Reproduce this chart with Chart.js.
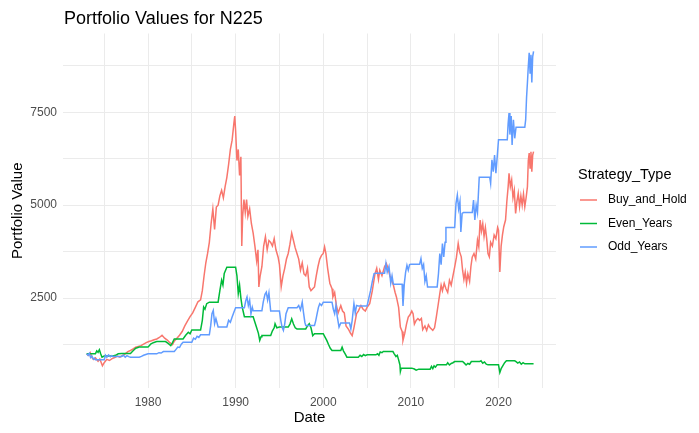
<!DOCTYPE html>
<html>
<head>
<meta charset="utf-8">
<title>Portfolio Values for N225</title>
<script src="https://cdn.jsdelivr.net/npm/chart.js@4/dist/chart.umd.min.js"></script>
<style>
  html, body { margin: 0; padding: 0; background: #ffffff; }
  #wrap { width: 699px; height: 433px; }
</style>
</head>
<body>
<div id="wrap"><canvas id="n225Chart" width="699" height="433"></canvas></div>
<script>
// values (decimal years)
const buyHoldYears = [
  1973.0, 1973.2, 1973.4, 1973.6, 1973.8, 1974.0, 1974.3, 1974.5, 1974.8, 1975.0,
  1975.3, 1975.6, 1975.9, 1976.2, 1976.5, 1976.8, 1977.1, 1977.4, 1977.7, 1978.0,
  1978.3, 1978.6, 1978.9, 1979.2, 1979.5, 1979.8, 1980.1, 1980.4, 1980.7, 1981.0,
  1981.3, 1981.6, 1981.9, 1982.2, 1982.5, 1982.8, 1983.0, 1983.3, 1983.6, 1983.9,
  1984.2, 1984.5, 1984.8, 1985.1, 1985.4, 1985.7, 1986.0, 1986.2, 1986.4, 1986.6,
  1986.8, 1987.0, 1987.2, 1987.4, 1987.6, 1987.8, 1988.0, 1988.2, 1988.4, 1988.6,
  1988.8, 1989.0, 1989.2, 1989.4, 1989.6, 1989.8, 1989.9, 1990.0, 1990.15, 1990.3,
  1990.45, 1990.6, 1990.7, 1990.8, 1990.95, 1991.1, 1991.25, 1991.4, 1991.6, 1991.8,
  1992.0, 1992.2, 1992.4, 1992.55, 1992.65, 1992.8, 1993.0, 1993.2, 1993.4, 1993.6,
  1993.8, 1994.0, 1994.2, 1994.4, 1994.6, 1994.85, 1995.0, 1995.2, 1995.4, 1995.6,
  1995.8, 1996.0, 1996.2, 1996.4, 1996.6, 1996.8, 1997.0, 1997.2, 1997.4, 1997.6,
  1997.8, 1998.0, 1998.2, 1998.4, 1998.6, 1998.8, 1999.0, 1999.2, 1999.4, 1999.6,
  1999.8, 2000.0, 2000.15, 2000.3, 2000.5, 2000.75, 2001.0, 2001.1, 2001.3, 2001.5,
  2001.7, 2002.0, 2002.2, 2002.4, 2002.6, 2002.9, 2003.1, 2003.3, 2003.5, 2003.8,
  2004.0, 2004.3, 2004.55, 2004.8, 2005.0, 2005.3, 2005.6, 2005.9, 2006.1, 2006.3,
  2006.45, 2006.7, 2007.0, 2007.2, 2007.4, 2007.6, 2007.8, 2008.0, 2008.2, 2008.35,
  2008.6, 2008.8, 2009.0, 2009.1, 2009.3, 2009.5, 2009.7, 2009.9, 2010.1, 2010.25,
  2010.4, 2010.6, 2010.8, 2011.0, 2011.2, 2011.35, 2011.6, 2011.8, 2012.0, 2012.2,
  2012.5, 2012.7, 2012.9, 2013.1, 2013.3, 2013.45, 2013.6, 2013.8, 2014.0, 2014.2,
  2014.4, 2014.6, 2014.8, 2015.0, 2015.2, 2015.4, 2015.55, 2015.75, 2015.9, 2016.05,
  2016.2, 2016.35, 2016.5, 2016.7, 2016.85, 2017.0, 2017.2, 2017.4, 2017.6, 2017.75,
  2017.9, 2018.05, 2018.2, 2018.35, 2018.5, 2018.65, 2018.8, 2018.95, 2019.1, 2019.3,
  2019.5, 2019.7, 2019.9, 2020.0, 2020.15, 2020.3, 2020.45, 2020.6, 2020.8, 2020.95,
  2021.1, 2021.2, 2021.35, 2021.5, 2021.65, 2021.8, 2021.95, 2022.1, 2022.25, 2022.4,
  2022.55, 2022.7, 2022.85, 2023.0, 2023.15, 2023.3, 2023.4, 2023.5, 2023.6, 2023.7,
  2023.8, 2023.9, 2024.0
];
const buyHoldValues = [
  1000, 960, 1030, 900, 850, 890, 800, 860, 680, 760,
  850, 820, 870, 900, 940, 910, 960, 1000, 1060, 1090,
  1130, 1180, 1200, 1220, 1260, 1300, 1330, 1350, 1380, 1400,
  1440, 1500, 1420, 1370, 1300, 1250, 1340, 1420, 1500, 1600,
  1750, 1880, 2000, 2100, 2250, 2400, 2450, 2700, 3100, 3450,
  3700, 4000, 4500, 4900, 4350, 4950, 5000, 5250, 5400, 5200,
  5500, 5750, 6100, 6500, 6750, 7200, 7400, 7000, 6200, 6500,
  5800, 6300, 3900, 4700, 5150, 4800, 5150, 4700, 4900, 4500,
  4250, 3900, 3500, 3800, 2800, 3100, 3350, 3900, 4150, 3800,
  4050, 4000, 3900, 4100, 3800, 3600, 3400, 2800, 3100, 3300,
  3550, 3700, 3950, 4250, 4050, 3850, 3700, 3550, 3250, 3450,
  3150, 3100, 3300, 2800, 2700, 2750, 2800, 3100, 3350, 3550,
  3650, 3700, 3880, 3700, 3300, 2900, 2750, 2530, 2650, 2300,
  2100, 2300, 2150, 2100, 1750, 1650, 1560, 1490, 1700, 2080,
  2150, 2300, 2200, 2150, 2250, 2350, 2700, 3150, 3300, 3000,
  3250, 3100, 3350, 3430, 3300, 3100, 2980, 2850, 2650, 2530,
  2250, 1720, 1600, 1360, 1550, 1800, 1990, 2050, 2150, 2080,
  1800, 1900, 1950, 1900, 1950, 1650, 1750, 1630, 1780, 1700,
  1630, 1700, 1990, 2300, 2620, 2850, 2700, 2900, 2750, 2650,
  2980, 2850, 3100, 3340, 3600, 3970, 3750, 3610, 3250, 3000,
  3200, 2900, 3150, 2950, 3350, 3600, 3700, 3550, 4060, 3880,
  4600, 4300, 4500, 4160, 4400, 4100, 3700, 3610, 4000, 3900,
  4200, 4100, 4400, 4330, 3200, 3900, 4200, 4420, 4600, 5100,
  5500, 5860, 5500, 5680, 5200, 5400, 4780, 5100, 5320, 4960,
  5250, 5000, 5300, 4960, 5200, 5500, 6200, 6400, 6000, 6440,
  5900, 6350, 6440
];

const evenYears = [
  1973.0, 1974.0, 1974.15, 1974.3, 1974.45, 1974.6, 1974.75, 1975.0, 1976.0, 1976.3,
  1976.6, 1977.0, 1978.0, 1978.3, 1978.6, 1979.0, 1980.0, 1980.3, 1980.6, 1981.0,
  1982.0, 1982.3, 1982.6, 1982.8, 1983.0, 1984.0, 1984.3, 1984.6, 1984.8, 1985.0,
  1986.0, 1986.2, 1986.35, 1986.5, 1986.7, 1987.0, 1988.0, 1988.2, 1988.4, 1988.55,
  1988.7, 1989.0, 1990.0, 1990.15, 1990.3, 1990.45, 1990.6, 1990.75, 1991.0, 1992.0,
  1992.2, 1992.4, 1992.6, 1992.75, 1992.9, 1993.0, 1994.0, 1994.2, 1994.4, 1994.5,
  1994.7, 1995.0, 1996.0, 1996.2, 1996.4, 1996.6, 1996.8, 1997.0, 1998.0, 1998.2,
  1998.4, 1998.6, 1998.8, 1999.0, 2000.0, 2000.2, 2000.4, 2000.6, 2000.8, 2001.0,
  2002.0, 2002.15, 2002.3, 2002.5, 2002.7, 2003.0, 2004.0, 2004.2, 2004.4, 2004.6,
  2004.8, 2005.0, 2006.0, 2006.2, 2006.35, 2006.5, 2006.7, 2006.85, 2007.95, 2008.1,
  2008.3, 2008.45, 2008.6, 2008.75, 2008.8, 2008.9, 2010.1, 2010.4, 2010.6, 2010.9,
  2012.2, 2012.35, 2012.5, 2012.65, 2012.8, 2013.0, 2014.05, 2014.2, 2014.4, 2014.6,
  2014.8, 2015.0, 2015.9, 2016.1, 2016.3, 2016.5, 2016.7, 2016.9, 2017.85, 2018.0,
  2018.2, 2018.4, 2018.6, 2018.8, 2019.0, 2020.0, 2020.15, 2020.3, 2020.5, 2020.7,
  2020.9, 2021.85, 2022.0, 2022.2, 2022.4, 2022.6, 2022.8, 2023.0, 2024.0
];
const evenValues = [
  1000, 1000, 1080, 1040, 1110, 1000, 910, 940, 940, 960,
  1000, 1010, 1010, 1080, 1150, 1180, 1180, 1260, 1300, 1330,
  1330, 1280, 1220, 1300, 1400, 1400, 1500, 1580, 1540, 1640,
  1640, 1900, 2260, 2200, 2350, 2390, 2390, 2700, 2980, 2850,
  3160, 3330, 3330, 3100, 2620, 2850, 2500, 2260, 2000, 2000,
  1850, 1700, 1550, 1360, 1460, 1490, 1490, 1620, 1700, 1810,
  1700, 1720, 1720, 1800, 1940, 1800, 1700, 1670, 1670, 1750,
  1810, 1700, 1490, 1540, 1540, 1450, 1360, 1250, 1150, 1090,
  1090, 1180, 1080, 1000, 910, 910, 910, 960, 930, 980,
  950, 972, 972, 1000, 960, 1050, 1030, 1062, 1062, 1000,
  927, 960, 838, 700, 523, 614, 614, 590, 560, 587,
  587, 660, 600, 676, 640, 703, 703, 760, 700, 740,
  760, 792, 792, 749, 700, 740, 720, 792, 792, 811,
  749, 780, 720, 703, 703, 703, 496, 600, 680, 760,
  811, 811, 790, 749, 780, 720, 760, 730, 730
];

const oddYears = [
  1973.0, 1973.15, 1973.3, 1973.45, 1973.6, 1973.75, 1973.9, 1974.0, 1975.0, 1975.15,
  1975.3, 1975.5, 1975.7, 1975.85, 1976.0, 1977.0, 1977.2, 1977.4, 1977.6, 1977.8,
  1978.0, 1979.0, 1979.25, 1979.5, 1979.75, 1980.0, 1981.0, 1981.25, 1981.5, 1981.75,
  1982.0, 1983.0, 1983.2, 1983.4, 1983.6, 1983.8, 1984.0, 1985.0, 1985.2, 1985.4,
  1985.6, 1985.8, 1986.0, 1987.0, 1987.15, 1987.3, 1987.45, 1987.6, 1987.75, 1988.0,
  1989.0, 1989.2, 1989.4, 1989.6, 1989.8, 1990.0, 1991.0, 1991.15, 1991.3, 1991.45,
  1991.6, 1991.75, 1991.9, 1992.0, 1993.0, 1993.15, 1993.35, 1993.5, 1993.65, 1993.8,
  1994.0, 1995.0, 1995.15, 1995.3, 1995.45, 1995.6, 1995.75, 1996.0, 1997.0, 1997.2,
  1997.4, 1997.6, 1997.75, 1997.9, 1998.0, 1999.0, 1999.15, 1999.3, 1999.45, 1999.6,
  1999.8, 2000.0, 2001.0, 2001.15, 2001.3, 2001.45, 2001.6, 2001.8, 2002.0, 2003.0,
  2003.15, 2003.3, 2003.5, 2003.65, 2003.8, 2004.0, 2005.0, 2005.2, 2005.4, 2005.6,
  2005.8, 2006.0, 2007.0, 2007.15, 2007.3, 2007.5, 2007.7, 2007.85, 2008.0, 2009.0,
  2009.1, 2009.25, 2009.4, 2009.55, 2009.7, 2009.85, 2010.0, 2011.0, 2011.15, 2011.3,
  2011.45, 2011.6, 2011.75, 2011.9, 2012.0, 2013.0, 2013.15, 2013.3, 2013.45, 2013.6,
  2013.75, 2013.9, 2014.0, 2015.0, 2015.15, 2015.3, 2015.45, 2015.6, 2015.7, 2015.85,
  2016.0, 2017.0, 2017.15, 2017.3, 2017.45, 2017.6, 2017.8, 2018.0, 2019.0, 2019.1,
  2019.25, 2019.4, 2019.55, 2019.7, 2019.85, 2020.0, 2021.0, 2021.1, 2021.2, 2021.3,
  2021.45, 2021.55, 2021.7, 2021.85, 2022.0, 2023.0, 2023.1, 2023.2, 2023.3, 2023.4,
  2023.5, 2023.6, 2023.7, 2023.8, 2023.9, 2024.0
];
const oddValues = [
  1000, 960, 1010, 900, 940, 860, 880, 840, 840, 960,
  910, 970, 920, 950, 930, 930, 960, 910, 950, 925,
  910, 910, 930, 960, 980, 1000, 1000, 1030, 1020, 1060,
  1060, 1060, 1120, 1180, 1170, 1260, 1310, 1310, 1420, 1390,
  1470, 1440, 1510, 1510, 1750, 2080, 2170, 1810, 1950, 1720,
  1720, 1900, 1850, 1990, 2120, 2240, 2240, 2420, 2530, 2300,
  2440, 2080, 2250, 2160, 2160, 2390, 2600, 2660, 2450, 2640,
  2150, 2150, 1900, 1720, 1630, 1800, 2080, 2240, 2240, 2300,
  2180, 2390, 2100, 1850, 1760, 1760, 1900, 2080, 2250, 2350,
  2300, 2390, 2390, 2200, 2080, 2300, 2000, 1720, 1830, 1830,
  1670, 1900, 2350, 2100, 2300, 2290, 2290, 2500, 2700, 2950,
  3160, 3170, 3170, 3430, 3200, 3350, 2900, 3100, 2870, 2870,
  2290, 2890, 3200, 3380, 3250, 3400, 3410, 3410, 3560, 3300,
  3400, 2950, 3100, 2800, 2800, 2800, 3160, 3700, 3400, 3970,
  3610, 4000, 4400, 4400, 5050, 5270, 4900, 5100, 4280, 4780,
  4800, 4800, 5140, 4600, 5000, 4800, 5750, 5750, 5750, 5590,
  6220, 5900, 6350, 5860, 6300, 6760, 6760, 7200, 7480, 6900,
  7400, 6620, 7300, 6800, 7100, 7100, 7300, 7900, 8300, 8740,
  9100, 8560, 9050, 8300, 9000, 9140
];

const xTicks = [1975, 1980, 1985, 1990, 1995, 2000, 2005, 2010, 2015, 2020, 2025];
const yTicks = [1250, 2500, 3750, 5000, 6250, 7500, 8750];

const seriesNames = ['Buy_and_Hold', 'Even_Years', 'Odd_Years'];
const seriesColors = ['#F8766D', '#00BA38', '#619CFF'];

const fontFamily = '"Liberation Sans", Arial, Helvetica, sans-serif';

function toPoints(xs, ys) {
  return xs.map((x, i) => ({ x: x, y: ys[i] }));
}

// title and legend, drawn the ggplot way
const decorPlugin = {
  id: 'decor',
  afterDraw(chart) {
    const ctx = chart.ctx;
    ctx.save();
    ctx.fillStyle = '#000000';
    ctx.textAlign = 'left';
    ctx.textBaseline = 'alphabetic';
    ctx.font = '18px ' + fontFamily;
    ctx.fillText('Portfolio Values for N225', 64, 24);

    ctx.font = '14.5px ' + fontFamily;
    ctx.fillText('Strategy_Type', 578, 179);

    const keyY = [200, 223.5, 247];
    ctx.font = '12px ' + fontFamily;
    ctx.textBaseline = 'middle';
    seriesNames.forEach((name, i) => {
      ctx.strokeStyle = seriesColors[i];
      ctx.lineWidth = 1.5;
      ctx.beginPath();
      ctx.moveTo(580, keyY[i]);
      ctx.lineTo(597, keyY[i]);
      ctx.stroke();
      ctx.fillStyle = '#000000';
      ctx.fillText(name, 608, keyY[i]);
    });
    ctx.restore();
  }
};

const datasets = [
  toPoints(buyHoldYears, buyHoldValues),
  toPoints(evenYears, evenValues),
  toPoints(oddYears, oddValues)
].map((pts, i) => ({
  label: seriesNames[i],
  data: pts,
  borderColor: seriesColors[i],
  backgroundColor: seriesColors[i],
  borderWidth: 1.5,
  pointRadius: 0,
  tension: 0,
  fill: false,
  order: 3 - i
}));

new Chart(document.getElementById('n225Chart'), {
  type: 'line',
  data: { datasets: datasets },
  plugins: [decorPlugin],
  options: {
    responsive: false,
    animation: false,
    devicePixelRatio: 1,
    layout: { padding: { left: 0, right: 143, top: 33.5, bottom: 0 } },
    plugins: {
      legend: { display: false },
      title: { display: false },
      tooltip: { enabled: false }
    },
    scales: {
      x: {
        type: 'linear',
        min: 1970.3,
        max: 2026.56,
        afterBuildTicks: s => { s.ticks = xTicks.map(v => ({ value: v })); },
        afterFit: s => { s.height = 45; },
        grid: { color: '#EBEBEB', lineWidth: 1, drawTicks: false },
        border: { display: false },
        ticks: {
          autoSkip: false,
          maxRotation: 0,
          padding: 7,
          color: '#4D4D4D',
          font: { family: fontFamily, size: 12 },
          callback: v => (v % 10 === 0 ? String(v) : '')
        },
        title: {
          display: true,
          text: 'Date',
          color: '#000000',
          font: { family: fontFamily, size: 15 },
          padding: { top: 0, bottom: 6 }
        }
      },
      y: {
        type: 'linear',
        min: 80,
        max: 9620,
        afterBuildTicks: s => { s.ticks = yTicks.map(v => ({ value: v })); },
        afterFit: s => { s.width = 63; },
        grid: { color: '#EBEBEB', lineWidth: 1, drawTicks: false },
        border: { display: false },
        ticks: {
          autoSkip: false,
          padding: 6,
          color: '#4D4D4D',
          font: { family: fontFamily, size: 12 },
          callback: v => (v % 2500 === 0 ? String(v) : '')
        },
        title: {
          display: true,
          text: 'Portfolio Value',
          color: '#000000',
          font: { family: fontFamily, size: 15 },
          padding: { top: 9, bottom: 0 }
        }
      }
    }
  }
});
</script>
</body>
</html>
